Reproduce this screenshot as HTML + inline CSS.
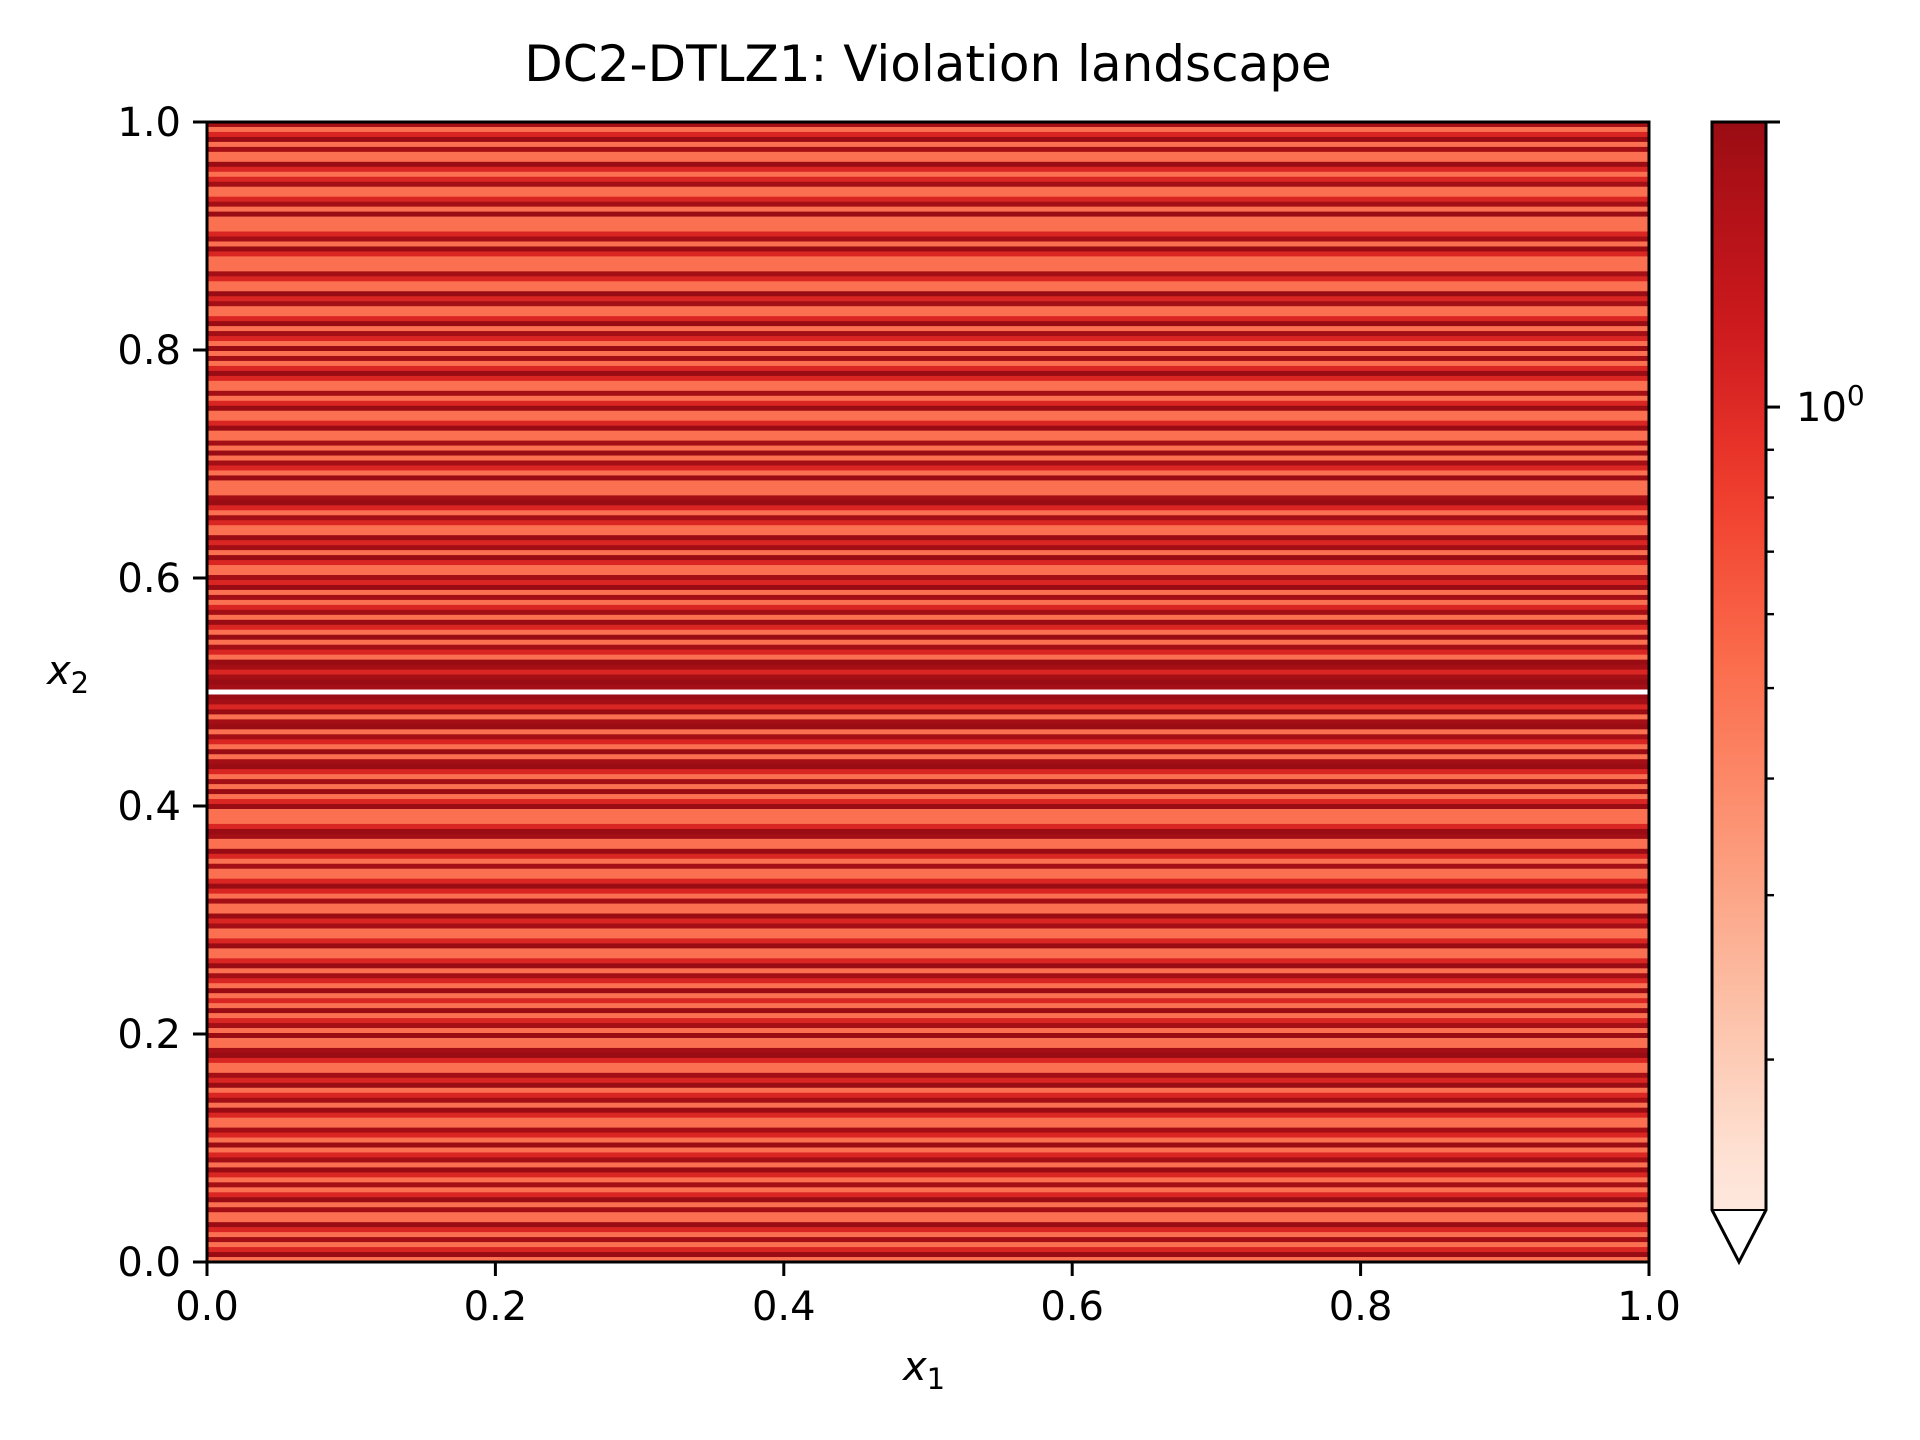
<!DOCTYPE html>
<html><head><meta charset="utf-8"><style>
html,body{margin:0;padding:0;background:#fff;}
svg{display:block;font-family:"DejaVu Sans","Liberation Sans",sans-serif;}
</style></head><body>
<svg id="chart" width="1920" height="1440" viewBox="0 0 1920 1440" xmlns="http://www.w3.org/2000/svg">
<rect width="1920" height="1440" fill="#fff"/>
<text x="928" y="81" font-size="50" text-anchor="middle">DC2-DTLZ1: Violation landscape</text>
<g id="stripes"></g>
<g id="axes"></g>
<g id="cbar"></g>
<text x="924" y="1380" font-size="40" font-style="italic" text-anchor="middle">x<tspan font-size="29" dy="9" font-style="normal">1</tspan></text>
<text x="68" y="684" font-size="40" font-style="italic" text-anchor="middle">x<tspan font-size="29" dy="9" font-style="normal">2</tspan></text>
</svg>
<script>
// stripe values listed from top (x2=1) to bottom (x2=0)
const stripeValues = [
1.45,0.5,0.9,1.6,0.5,1.45,0.5,0.5,1.6,0.9,0.5,0.9,1.45,0.5,0.5,0.9,1.45,0.5,1.6,0.5,
0.5,0.5,0.9,1.45,0.5,1.6,0.9,0.5,0.5,0.5,1.45,0.9,0.5,0.5,1.6,0.9,1.45,0.5,0.5,0.9,
1.6,0.5,1.45,0.9,0.5,1.6,0.5,1.45,0.5,0.9,1.6,0.9,0.5,0.5,1.45,0.5,0.9,1.6,0.5,0.5,
0.9,1.6,0.5,0.5,1.45,0.5,1.6,0.5,1.45,0.9,0.5,1.6,0.5,0.5,0.5,1.45,1.6,0.9,0.5,1.45,
0.9,0.5,0.5,1.6,0.9,1.45,0.5,1.6,0.9,0.5,0.5,1.45,0.9,1.6,0.5,1.45,0.5,0.9,1.45,0.5,
1.6,0.9,0.5,1.6,0.5,1.45,0.9,0.5,1.6,1.45,0.9,1.45,1.6,1.45,
0,
1.6,1.45,0.9,1.6,0.5,1.45,1.6,0.5,1.45,0.9,0.5,1.6,0.5,1.45,
1.6,0.9,0.5,1.45,0.5,1.6,0.5,0.9,1.6,0.5,0.5,0.5,0.9,1.6,1.45,0.5,0.5,1.6,0.9,0.5,
1.45,0.5,0.5,0.9,1.6,0.9,0.5,1.45,0.5,0.5,1.6,0.9,1.45,0.5,0.5,0.9,1.6,0.5,0.5,0.9,
1.6,0.5,1.45,0.9,0.5,1.6,0.5,0.9,0.5,1.6,0.5,0.9,1.45,0.5,1.6,0.5,0.5,1.45,1.6,0.9,
0.5,0.5,1.45,0.9,1.6,0.5,0.9,1.45,0.5,1.6,0.9,0.5,0.5,1.45,0.9,0.5,1.6,0.5,0.9,1.45,
0.5,1.6,0.9,0.5,1.45,0.5,0.9,1.6,0.5,1.45,0.5,0.5,1.6,0.9,0.5,1.45,0.5,0.9,1.6,0.5
];
const xTicks = [0,0.2,0.4,0.6,0.8,1.0];
const yTicks = [0,0.2,0.4,0.6,0.8,1.0];
const tickLabels = ["0.0","0.2","0.4","0.6","0.8","1.0"];
const cbarMinor = [0.2,0.3,0.4,0.5,0.6,0.7,0.8,0.9];
const cbarMajor = [1];
const vmin = 0.138, vmax = 2.02;

const NS = "http://www.w3.org/2000/svg";
const L=207, R=1649, T=122, B=1262;
const CL=1712, CR=1766, CT=122, CB=1210, CTIP=1262;
function sx(v){return L+(R-L)*v;}
function sy(v){return B-(B-T)*v;}
function norm(v){return (Math.log10(v)-Math.log10(vmin))/(Math.log10(vmax)-Math.log10(vmin));}
function cy(v){return CB-(CB-CT)*norm(v);}
const stops=[[0,[255,245,240]],[0.125,[254,224,210]],[0.25,[252,187,161]],[0.375,[252,146,114]],[0.5,[251,106,74]],[0.625,[239,59,44]],[0.75,[203,24,29]],[0.875,[165,15,21]],[1,[103,0,13]]];
function reds(t){
  t=Math.max(0,Math.min(1,t));
  for(let i=1;i<stops.length;i++){ if(t<=stops[i][0]){const a=stops[i-1],b=stops[i];const f=(t-a[0])/(b[0]-a[0]);
    return "rgb("+a[1].map((c,k)=>Math.round(c+(b[1][k]-c)*f)).join(",")+")";}}
  return "rgb(103,0,13)";
}
function color(v){ if(v<vmin) return "#ffffff"; return reds(Math.min(norm(v),0.9)); }
function mk(tag,attrs,parent){const e=document.createElementNS(NS,tag);for(const k in attrs)e.setAttribute(k,attrs[k]);parent.appendChild(e);return e;}

const sg=document.getElementById("stripes");
const n=stripeValues.length;
stripeValues.forEach((v,i)=>{
  const y0=sy(1-i/n), y1=sy(1-(i+1)/n);
  const r=mk("rect",{x:L,y:y0,width:R-L,height:(y1-y0)+0.6,fill:color(v)},sg);
  
  
});

const ax=document.getElementById("axes");
const frame=mk("rect",{x:L,y:T,width:R-L,height:B-T,fill:"none",stroke:"#000","stroke-width":3},ax);


xTicks.forEach((v,i)=>{
  mk("line",{x1:sx(v),x2:sx(v),y1:B,y2:B+14,stroke:"#000","stroke-width":3},ax);
  const t=mk("text",{x:sx(v),y:B+58,"font-size":40,"text-anchor":"middle"},ax);
  t.textContent=tickLabels[i];
  
  
});
yTicks.forEach((v,i)=>{
  mk("line",{x1:L-14,x2:L,y1:sy(v),y2:sy(v),stroke:"#000","stroke-width":3},ax);
  const t=mk("text",{x:L-26,y:sy(v)+14,"font-size":40,"text-anchor":"end"},ax);
  t.textContent=tickLabels[i];
  
  
});

const cb=document.getElementById("cbar");
const defs=mk("defs",{},cb);
const grad=mk("linearGradient",{id:"cg",x1:0,y1:1,x2:0,y2:0},defs);
for(let k=0;k<=20;k++){const t=k/20;mk("stop",{offset:t,"stop-color":reds(0.08+0.82*t)},grad);}
const cr=mk("rect",{x:CL,y:CT,width:CR-CL,height:CB-CT,fill:"url(#cg)"},cb);


const outline=mk("path",{d:`M${CL},${CT} L${CR},${CT} L${CR},${CB} L${(CL+CR)/2},${CTIP} L${CL},${CB} Z`,fill:"none",stroke:"#000","stroke-width":3},cb);


mk("line",{x1:CL,x2:CR,y1:CB,y2:CB,stroke:"#000","stroke-width":2},cb);
mk("line",{x1:CR,x2:CR+14,y1:CT,y2:CT,stroke:"#000","stroke-width":3},cb);
cbarMinor.forEach(v=>{mk("line",{x1:CR,x2:CR+8,y1:cy(v),y2:cy(v),stroke:"#000","stroke-width":2.4},cb);});
cbarMajor.forEach(v=>{
  mk("line",{x1:CR,x2:CR+14,y1:cy(v),y2:cy(v),stroke:"#000","stroke-width":3},cb);
  const t=mk("text",{x:CR+30,y:cy(v)+14,"font-size":40},cb);
  t.innerHTML='10<tspan font-size="28" dy="-16">0</tspan>';
  
  
});
</script>
</body></html>
